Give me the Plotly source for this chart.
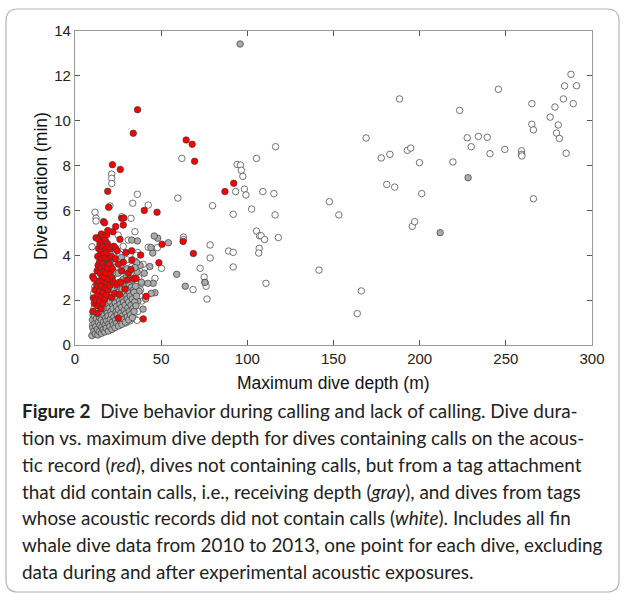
import plotly.graph_objects as go

# ---------------- data ----------------
# dives containing calls (red)
red_points = [
    (36.3, 10.49), (33.8, 9.44), (64.5, 9.14), (68.0, 8.95), (69.4, 8.19), (21.7, 8.04),
    (26.3, 7.83), (92.1, 7.21), (87.0, 6.84), (19.0, 6.85), (19.5, 6.14), (40.2, 6.00),
    (47.6, 5.92), (48.7, 3.67), (50.5, 4.49), (62.7, 4.62), (68.7, 4.08),
    (10.4, 1.50), (10.6, 2.10), (10.3, 3.05), (11.2, 1.85), (11.0, 2.95), (11.6, 2.45),
    (12.0, 2.00), (12.2, 4.78), (12.5, 2.70), (12.8, 3.30), (12.9, 1.40), (13.3, 1.75),
    (13.1, 2.25), (13.6, 2.60), (13.4, 3.55), (13.2, 3.95), (13.7, 4.30), (13.5, 4.72),
    (14.2, 1.95), (14.4, 2.42), (14.1, 2.85), (14.6, 3.20), (14.3, 3.70), (14.8, 4.05),
    (14.5, 4.50), (14.9, 4.85), (15.2, 1.62), (15.5, 2.15), (15.3, 2.62), (15.7, 3.05),
    (15.1, 3.45), (15.6, 3.85), (15.4, 4.20), (15.8, 4.62), (15.3, 4.95), (16.2, 1.85),
    (16.5, 2.35), (16.1, 2.88), (16.7, 3.30), (16.3, 3.65), (16.8, 4.05), (16.4, 4.40),
    (16.9, 4.80), (16.6, 5.50), (17.3, 2.05), (17.6, 2.55), (17.2, 3.02), (17.8, 3.48),
    (17.4, 3.90), (17.9, 4.28), (17.5, 4.68), (17.1, 5.45), (18.2, 2.25), (18.5, 2.78),
    (18.1, 3.22), (18.7, 3.62), (18.3, 4.12), (18.8, 4.52), (18.4, 4.92), (19.2, 2.45),
    (19.5, 2.95), (19.1, 3.42), (19.7, 3.88), (19.3, 4.38), (19.0, 5.10), (20.2, 2.65),
    (20.5, 3.15), (20.1, 3.62), (20.6, 4.30), (21.2, 2.12), (21.5, 3.00), (21.1, 3.95),
    (21.7, 3.40), (22.2, 2.82), (22.5, 4.40), (22.0, 5.05), (23.1, 2.30), (23.4, 3.85),
    (23.6, 5.28), (23.6, 4.30), (24.2, 2.70), (24.5, 4.20), (25.1, 1.19), (25.3, 3.60),
    (25.8, 2.25), (26.1, 4.71), (26.4, 2.80), (27.1, 3.30), (27.1, 5.65), (28.0, 5.35),
    (28.0, 3.69), (28.3, 5.66), (29.0, 2.50), (29.6, 4.12), (30.2, 2.90), (31.0, 3.20),
    (32.5, 3.37), (32.9, 4.20), (33.0, 3.79), (33.8, 2.97), (35.5, 2.97), (38.1, 4.01),
    (39.6, 1.16), (41.3, 2.17),
]

# dives without calls from tags that did record calls (gray)
gray_points = [
    (95.8, 13.42), (211.9, 5.01), (228.1, 7.46), (75.4, 2.79), (64.0, 2.62), (59.0, 3.15),
    (54.2, 4.56), (48.0, 4.76), (46.0, 4.86), (46.4, 2.33), (45.4, 2.75), (45.1, 4.10),
    (44.0, 4.35), (44.2, 2.30), (43.4, 3.50), (42.3, 2.75), (41.0, 2.05), (40.2, 3.20),
    (39.5, 1.60), (38.5, 2.80), (37.8, 3.55), (37.2, 2.40), (36.5, 1.95), (36.2, 4.64),
    (36.1, 3.25), (35.8, 3.67), (32.9, 4.68), (20.3, 4.10), (23.2, 3.71), (27.0, 3.90),
    (30.0, 3.40), (25.0, 3.20),
    (9.8, 0.42), (10.3, 0.78), (10.1, 1.12), (10.6, 1.45), (10.9, 0.62), (11.4, 0.95),
    (11.2, 1.30), (11.8, 0.50), (12.1, 0.83), (12.4, 1.18), (12.6, 1.60), (13.2, 0.45),
    (13.0, 0.70), (13.5, 1.02), (13.8, 1.38), (14.1, 0.60), (14.5, 0.88), (14.3, 1.22),
    (14.9, 1.72), (15.3, 0.52), (15.6, 0.80), (15.2, 1.12), (15.9, 1.48), (16.3, 0.68),
    (16.5, 1.02), (16.8, 1.32), (16.1, 1.90), (17.2, 0.58), (17.5, 0.90), (17.8, 1.20),
    (17.3, 1.62), (18.1, 0.75), (18.4, 1.08), (18.7, 1.42), (18.2, 1.85), (18.9, 2.15),
    (19.3, 0.62), (19.6, 0.95), (19.2, 1.30), (19.8, 1.65), (20.2, 0.82), (20.5, 1.15),
    (20.8, 1.50), (20.3, 1.95), (21.0, 2.30), (21.4, 0.70), (21.7, 1.02), (21.2, 1.35),
    (21.9, 1.75), (22.3, 0.90), (22.6, 1.25), (22.1, 1.62), (22.8, 2.05), (22.4, 2.45),
    (23.2, 0.78), (23.5, 1.12), (23.8, 1.48), (23.3, 1.88), (23.9, 2.28), (24.2, 0.98),
    (24.5, 1.35), (24.1, 1.72), (24.8, 2.12), (24.4, 2.62), (25.3, 0.85), (25.6, 1.20),
    (25.2, 1.58), (25.9, 1.98), (25.5, 2.38), (25.8, 2.80), (26.3, 1.05), (26.6, 1.42),
    (26.1, 1.82), (26.8, 2.22), (26.4, 2.58), (27.2, 0.92), (27.5, 1.30), (27.1, 1.68),
    (27.8, 2.05), (27.4, 2.48), (27.9, 2.92), (28.3, 1.15), (28.6, 1.55), (28.2, 1.92),
    (28.8, 2.35), (28.5, 2.75), (29.2, 1.02), (29.5, 1.40), (29.1, 1.78), (29.8, 2.18),
    (29.4, 2.60), (29.9, 3.05), (30.3, 1.25), (30.6, 1.65), (30.2, 2.05), (30.8, 2.45),
    (30.5, 2.88), (31.2, 1.12), (31.5, 1.50), (31.1, 1.92), (31.8, 2.32), (31.4, 2.72),
    (32.2, 1.35), (32.5, 1.78), (32.1, 2.18), (32.8, 2.58), (33.3, 1.22), (33.6, 1.62),
    (33.2, 2.05), (33.9, 2.45), (33.5, 2.90), (34.3, 1.50), (34.6, 1.92), (34.2, 2.35),
    (34.8, 3.45), (35.4, 1.75), (35.7, 2.18), (35.2, 2.62),
]

# dives from tags whose records had no calls (white)
white_points = [
    (62.0, 8.32), (59.7, 6.55), (62.9, 4.81), (62.9, 4.70), (68.5, 2.47), (72.6, 3.42),
    (74.9, 3.03), (75.4, 2.79), (76.1, 2.62), (76.6, 2.05), (78.4, 4.46), (78.4, 3.88),
    (79.8, 6.21), (89.1, 4.19), (91.8, 4.13), (91.8, 3.48), (91.8, 5.83), (93.2, 6.84),
    (94.1, 8.05), (96.0, 8.02), (96.5, 7.79), (97.4, 7.52), (98.3, 6.95), (99.2, 6.69),
    (102.5, 6.06), (105.3, 8.32), (105.3, 5.08), (107.1, 4.87), (108.0, 4.87), (106.9, 4.31),
    (106.6, 4.10), (110.0, 4.70), (109.0, 6.84), (110.8, 2.75), (115.4, 6.75), (116.1, 5.80),
    (116.4, 8.84), (118.0, 4.79), (141.6, 3.34), (147.6, 6.39), (153.1, 5.80), (163.8, 1.40),
    (166.1, 2.41), (168.9, 9.23), (177.7, 8.34), (180.9, 7.16), (182.7, 8.50), (185.5, 7.04),
    (188.3, 10.97), (192.9, 8.68), (194.8, 8.78), (195.7, 5.29), (197.1, 5.50), (199.9, 8.13),
    (201.2, 6.75), (219.3, 8.16), (223.2, 10.46), (227.6, 9.24), (229.9, 8.84), (234.1, 9.30),
    (239.2, 9.26), (240.8, 8.53), (245.7, 11.40), (249.4, 8.72), (259.1, 8.66), (259.1, 8.50),
    (259.3, 8.43), (265.1, 10.76), (265.1, 9.84), (266.0, 9.59), (266.0, 6.52), (275.7, 10.16),
    (278.5, 10.61), (279.4, 9.45), (280.4, 9.81), (281.1, 9.21), (283.4, 10.97), (284.1, 11.55),
    (285.0, 8.55), (287.8, 12.07), (289.1, 10.76), (291.0, 11.56),
    (9.9, 4.38), (11.6, 5.92), (12.2, 5.65), (12.2, 5.53), (21.3, 7.62), (21.3, 7.43),
    (21.3, 7.20), (20.3, 6.20), (36.2, 6.72), (33.5, 6.32), (42.5, 6.24), (32.5, 5.65),
    (27.1, 5.72), (34.8, 5.05), (30.9, 4.68), (36.4, 4.12), (47.8, 4.34), (42.5, 4.36),
    (46.4, 2.97), (38.7, 2.75), (38.7, 1.96), (34.2, 2.45), (25.1, 1.07), (31.9, 1.07),
    (50.2, 3.42), (40.5, 3.45), (39.5, 3.60), (37.5, 2.20),
    (10.2, 0.88), (10.5, 1.32), (10.8, 2.30), (11.1, 1.65), (11.5, 2.60), (12.3, 0.68),
    (12.8, 1.22), (13.6, 0.92), (14.2, 1.58), (15.0, 0.62), (15.5, 2.20), (16.5, 1.00),
    (17.6, 0.70), (18.5, 1.50), (19.5, 0.82), (20.6, 1.30), (21.6, 0.72), (22.5, 2.00),
    (23.6, 1.10), (24.5, 2.50), (25.5, 1.62), (26.5, 3.60), (27.5, 2.12), (28.5, 2.95),
    (29.5, 0.98), (30.5, 2.02), (31.5, 2.82), (32.5, 1.28), (33.5, 2.00), (34.5, 1.18),
    (35.5, 2.50), (36.5, 1.50), (30.0, 3.80), (28.0, 4.40), (25.0, 4.90), (23.0, 4.15),
    (19.0, 3.40), (33.0, 3.50), (37.0, 3.00), (36.0, 1.10), (38.0, 2.45), (32.0, 3.15),
    (29.0, 3.35), (34.0, 3.80), (35.5, 4.00), (26.0, 4.05), (31.0, 1.60), (27.0, 1.00),
    (24.0, 3.50), (22.0, 3.10),
]

x_ticks = [0, 50, 100, 150, 200, 250, 300]
y_ticks = [0, 2, 4, 6, 8, 10, 12, 14]
x_title = "Maximum dive depth (m)"
y_title = "Dive duration (min)"
caption_lines = [
    "<b>Figure 2</b>  Dive behavior during calling and lack of calling. Dive dura-",
    "tion vs. maximum dive depth for dives containing calls on the acous-",
    "tic record (<i>red</i>), dives not containing calls, but from a tag attachment",
    "that did contain calls, i.e., receiving depth (<i>gray</i>), and dives from tags",
    "whose acoustic records did not contain calls (<i>white</i>). Includes all fin",
    "whale dive data from 2010 to 2013, one point for each dive, excluding",
    "data during and after experimental acoustic exposures.",
]

red_x = [p[0] for p in red_points]
red_y = [p[1] for p in red_points]
gray_x = [p[0] for p in gray_points]
gray_y = [p[1] for p in gray_points]
white_x = [p[0] for p in white_points]
white_y = [p[1] for p in white_points]

# ---------------- layout geometry (pixels) ----------------
W, H = 624, 594
L, R, T, B = 75, 592, 31, 345  # plot area in pixels
PW, PH = R - L, B - T


def px(xp):
    return (xp - L) / PW


def py(yp):
    return (B - yp) / PH


fig = go.Figure()
mk = dict(size=6.5, line=dict(color="#3a3a3a", width=0.7))
fig.add_trace(go.Scatter(x=white_x, y=white_y, mode="markers",
                         marker=dict(color="#ffffff", **mk), name="white"))
fig.add_trace(go.Scatter(x=gray_x, y=gray_y, mode="markers",
                         marker=dict(color="#ababab", **mk), name="gray"))
fig.add_trace(go.Scatter(x=red_x, y=red_y, mode="markers",
                         marker=dict(color="#ff0000", **mk), name="red"))

axis_common = dict(showgrid=False, zeroline=False, showline=True, linecolor="#9a9a9a",
                   linewidth=1.2, mirror="ticks", ticks="inside", ticklen=5,
                   tickcolor="#555555", tickwidth=1,
                   tickfont=dict(family="Liberation Sans", size=15, color="#222222"))
fig.update_xaxes(range=[0, 300], tickvals=x_ticks, ticktext=[str(v) for v in x_ticks],
                 **axis_common)
fig.update_yaxes(range=[0, 14], tickvals=y_ticks, ticktext=[str(v) for v in y_ticks],
                 **axis_common)

ann = []
ann.append(dict(text=x_title, x=px(333), y=py(383), xref="paper", yref="paper",
                showarrow=False, xanchor="center", yanchor="middle",
                font=dict(family="Liberation Sans", size=17.5, color="#111111")))
ann.append(dict(text=y_title, x=px(41), y=py(186), xref="paper", yref="paper",
                showarrow=False, xanchor="center", yanchor="middle", textangle=-90,
                font=dict(family="Liberation Sans", size=17.5, color="#111111")))
line_y = [410, 437, 464, 491, 517, 544, 571]
for txt, yy in zip(caption_lines, line_y):
    ann.append(dict(text=txt, x=px(20), y=py(yy), xref="paper", yref="paper",
                    showarrow=False, xanchor="left", yanchor="middle",
                    font=dict(family="Lato", size=18.9, color="#222222")))

# rounded outer frame
x0, y0, x1, y1, r = 6, 9, 619, 592, 12
path = (f"M {px(x0 + r)} {py(y0)} L {px(x1 - r)} {py(y0)} "
        f"Q {px(x1)} {py(y0)} {px(x1)} {py(y0 + r)} L {px(x1)} {py(y1 - r)} "
        f"Q {px(x1)} {py(y1)} {px(x1 - r)} {py(y1)} L {px(x0 + r)} {py(y1)} "
        f"Q {px(x0)} {py(y1)} {px(x0)} {py(y1 - r)} L {px(x0)} {py(y0 + r)} "
        f"Q {px(x0)} {py(y0)} {px(x0 + r)} {py(y0)} Z")

fig.update_layout(
    width=W, height=H, autosize=False,
    margin=dict(l=L, r=W - R, t=T, b=H - B),
    paper_bgcolor="white", plot_bgcolor="white",
    showlegend=False, annotations=ann,
    shapes=[dict(type="path", path=path, xref="paper", yref="paper",
                 line=dict(color="#b5b5b5", width=1.2), layer="below")],
)

fig.write_html("out.html", config={"displayModeBar": False},
               post_script="document.body.style.margin='0px';document.body.style.overflow='hidden';")
